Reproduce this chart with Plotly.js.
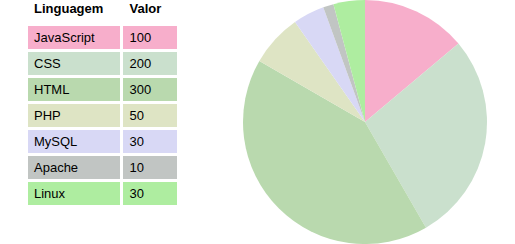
<!DOCTYPE html>
<html><head><meta charset="utf-8">
<script src="https://cdn.plot.ly/plotly-3.0.1.min.js"></script>
<style>html,body{margin:0;padding:0;background:#fff;overflow:hidden}#c{width:515px;height:251px;position:relative;top:-7px}</style>
</head><body><div id="c"></div>
<script>
const headers = ["Linguagem", "Valor"];
const languages = ["JavaScript", "CSS", "HTML", "PHP", "MySQL", "Apache", "Linux"];
const values = [100, 200, 300, 50, 30, 10, 30];
const colors = ["#F7AECB", "#CAE0CD", "#B9D9AE", "#DEE4C4", "#D8D8F5", "#C1C5C3", "#AEEDA0"];

const font = {family: "Liberation Sans, Arial, sans-serif", size: 13, color: "#000"};

const table = {
  type: "table",
  domain: {x: [26/515, 178/515], y: [0, 1]},
  columnwidth: [93, 55],
  header: {
    values: headers.map(h => "<b>" + h + "</b>"),
    align: "left",
    height: 24,
    fill: {color: "#fff"},
    line: {color: "#fff", width: 3},
    font: font
  },
  cells: {
    values: [languages, values.map(String)],
    align: "left",
    height: 26,
    fill: {color: [colors, colors]},
    line: {color: "#fff", width: 3},
    font: font
  }
};

const pie = {
  type: "pie",
  labels: languages,
  values: values,
  sort: false,
  direction: "clockwise",
  rotation: 0,
  marker: {colors: colors, line: {width: 0}},
  textinfo: "none",
  hoverinfo: "label+value",
  showlegend: false,
  domain: {x: [243/515, 487/515], y: [0, 244/251]}
};

Plotly.newPlot("c", [table, pie], {
  width: 515, height: 251,
  margin: {l: 0, r: 0, t: 0, b: 0},
  paper_bgcolor: "#fff",
  showlegend: false
}, {displayModeBar: false, staticPlot: true});
</script></body></html>
